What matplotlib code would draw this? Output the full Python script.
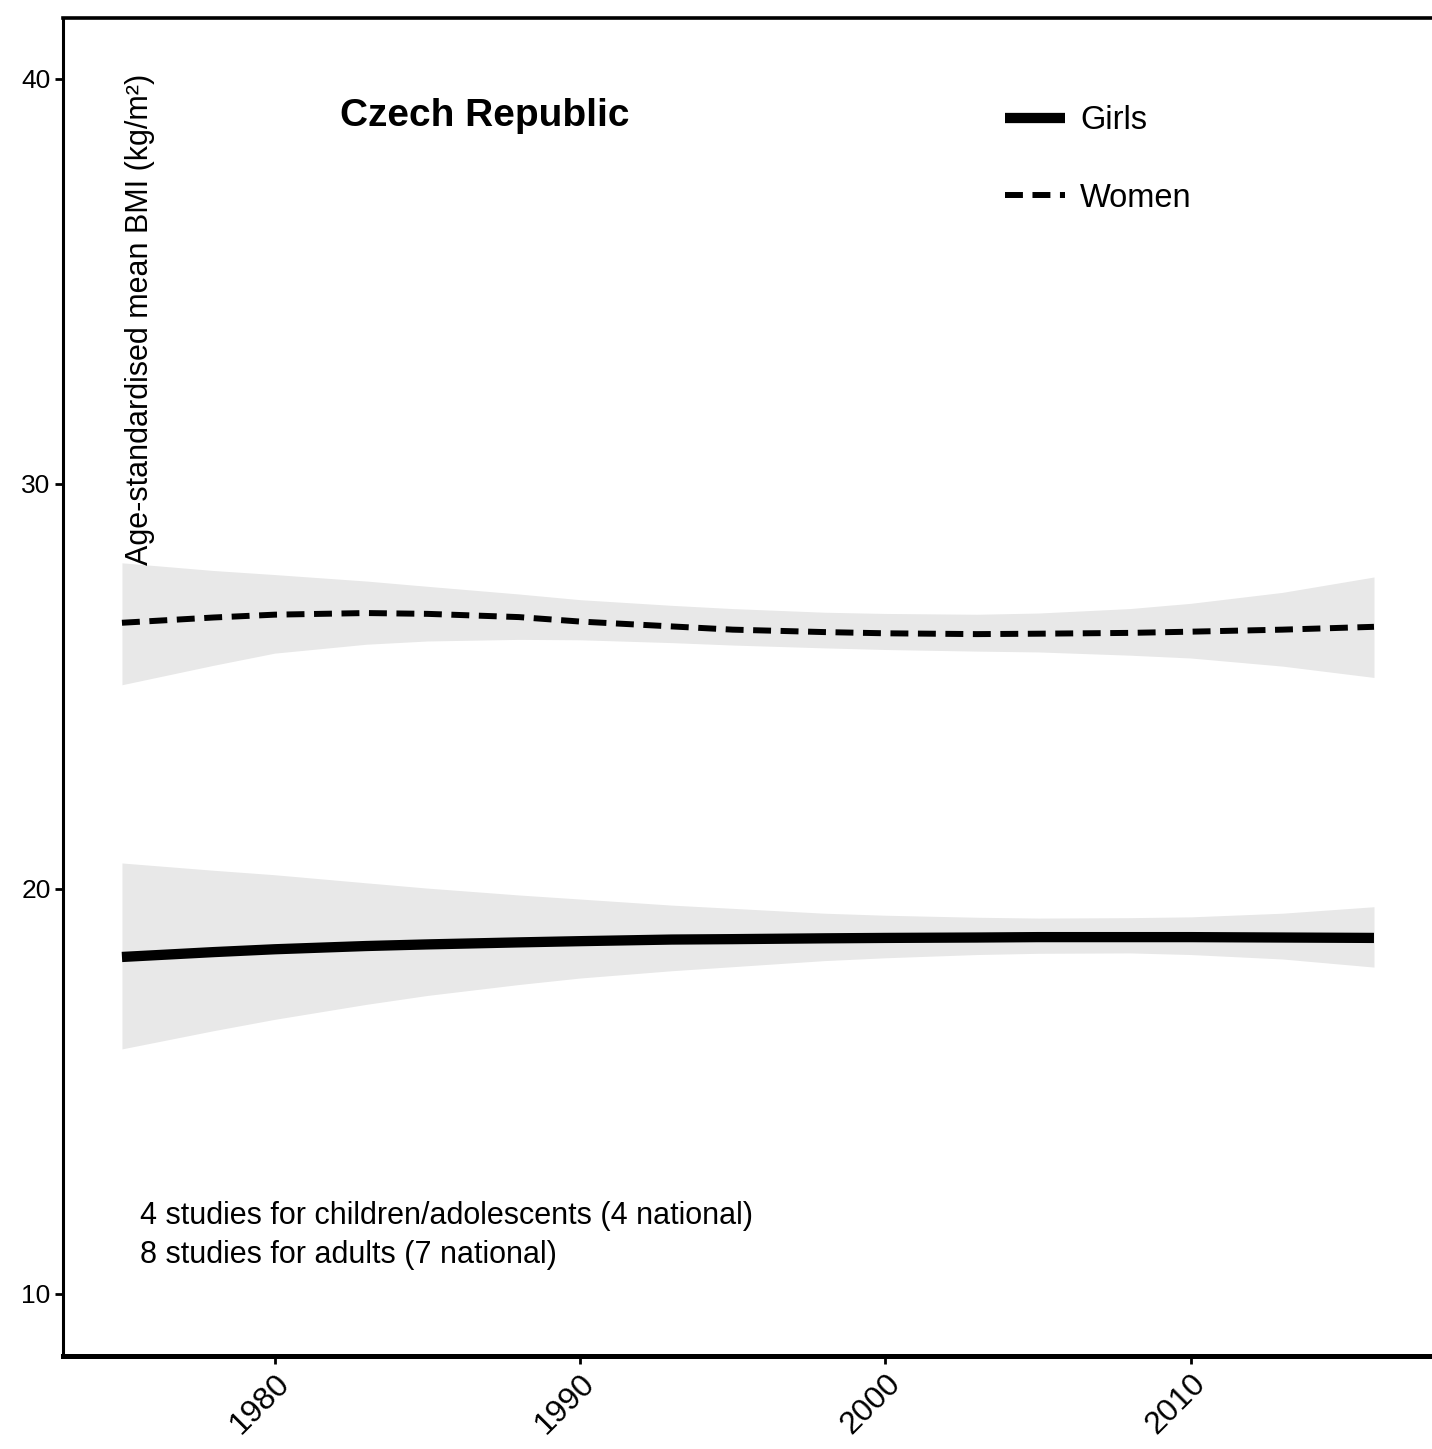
import matplotlib.pyplot as plt
import numpy as np

plt.rcParams['font.family'] = ['Liberation Sans', 'DejaVu Sans']

# values
years = [1975, 1978, 1980, 1983, 1985, 1988, 1990, 1993, 1995, 1998, 2000,
         2003, 2005, 2008, 2010, 2013, 2016]

women_mean = [26.57, 26.70, 26.77, 26.81, 26.79, 26.71, 26.60, 26.48, 26.40,
              26.34, 26.31, 26.29, 26.30, 26.32, 26.35, 26.40, 26.47]
women_upper = [28.05, 27.86, 27.76, 27.60, 27.47, 27.28, 27.14, 27.00, 26.92,
               26.83, 26.80, 26.78, 26.81, 26.92, 27.05, 27.32, 27.70]
women_lower = [25.04, 25.52, 25.82, 26.04, 26.12, 26.16, 26.15, 26.08, 26.02,
               25.95, 25.91, 25.87, 25.85, 25.77, 25.70, 25.50, 25.22]

girls_mean = [18.32, 18.44, 18.51, 18.59, 18.63, 18.68, 18.71, 18.75, 18.76,
              18.78, 18.79, 18.80, 18.81, 18.81, 18.81, 18.80, 18.79]
girls_upper = [20.64, 20.46, 20.35, 20.15, 20.02, 19.85, 19.75, 19.60, 19.52,
               19.40, 19.35, 19.30, 19.28, 19.29, 19.31, 19.40, 19.56]
girls_lower = [16.05, 16.50, 16.78, 17.15, 17.37, 17.64, 17.80, 17.98, 18.08,
               18.23, 18.30, 18.38, 18.41, 18.42, 18.38, 18.27, 18.07]

fig = plt.figure(figsize=(14.32, 14.49), dpi=100)
ax = fig.add_axes([0.044, 0.0642, 0.956, 0.9234])

band_color = '#e8e8e8'
ax.fill_between(years, women_lower, women_upper, color=band_color, lw=0)
ax.fill_between(years, girls_lower, girls_upper, color=band_color, lw=0)

ax.plot(years, girls_mean, color='black', lw=7.4, solid_capstyle='butt', label='Girls')
ax.plot(years, women_mean, color='black', lw=4.3, dashes=(3.0, 1.6), label='Women')

ax.set_xlim(1973.07, 2017.9)
ax.set_ylim(8.47, 41.5)
ax.set_xticks([1980, 1990, 2000, 2010])
ax.set_yticks([10, 20, 30, 40])
ax.tick_params(axis='both', direction='out', length=6, width=2, colors='black',
               labelsize=19, pad=3)
for lab in ax.get_xticklabels():
    lab.set_rotation(45)
    lab.set_ha('right')
    lab.set_va('top')
    lab.set_rotation_mode('anchor')
    lab.set_fontsize(23)

ax.spines['right'].set_visible(False)
ax.spines['left'].set_linewidth(2.2)
ax.spines['top'].set_linewidth(2.6)
ax.spines['bottom'].set_linewidth(3.6)

ax.text(0.056, 0.958, 'Age-standardised mean BMI (kg/m²)', transform=ax.transAxes,
        rotation=90, ha='center', va='top', fontsize=22)
ax.text(0.308, 0.927, 'Czech Republic', transform=ax.transAxes,
        ha='center', va='center', fontsize=28, fontweight='bold')
ax.text(0.056, 0.1046, '4 studies for children/adolescents (4 national)',
        transform=ax.transAxes, ha='left', va='center', fontsize=22)
ax.text(0.056, 0.0755, '8 studies for adults (7 national)',
        transform=ax.transAxes, ha='left', va='center', fontsize=22)

leg = ax.legend(loc='upper left', bbox_to_anchor=(0.688, 0.935), frameon=False,
                fontsize=23.5, handlelength=1.84, handletextpad=0.46,
                labelspacing=1.43, borderpad=0, borderaxespad=0)

fig.savefig('out.png', dpi=100)
